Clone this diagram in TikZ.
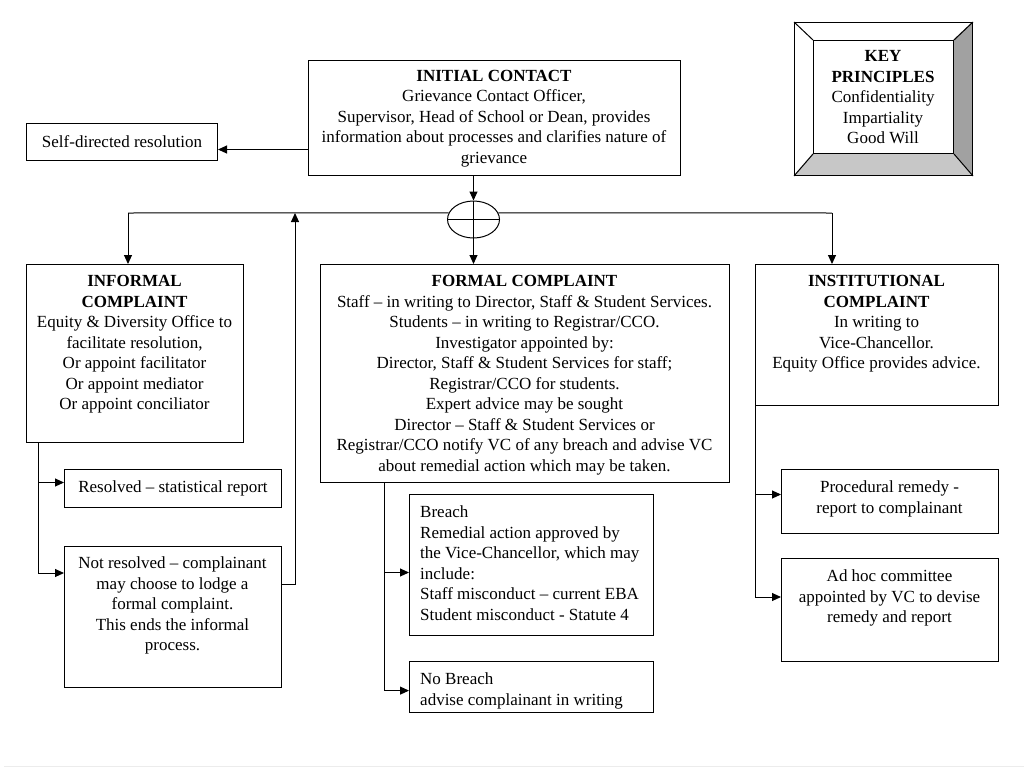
\documentclass[tikz,border=0pt]{standalone}
\usepackage{fontspec}
\setmainfont{Liberation Serif}
\usetikzlibrary{arrows.meta,shapes.geometric}
\tikzset{
  box/.style={draw=black, line width=1pt, rectangle, inner sep=0pt, anchor=north west},
  txt/.style={inner sep=0pt, align=center, anchor=north, font=\fontsize{17}{20.5}\selectfont},
  ltxt/.style={inner sep=0pt, align=left, anchor=north west, font=\fontsize{17}{20.5}\selectfont},
  ln/.style={draw=black, line width=1pt},
  arr/.style={ln, -{Triangle[length=9pt,width=8pt]}},
}
\begin{document}
\begin{tikzpicture}[x=1pt,y=-1pt]
\useasboundingbox (0,0) rectangle (1024,768);
\draw[gray!15, line width=1pt] (4,766) -- (1024,766);

% boxes
\node[box, minimum width=372, minimum height=115] (ic) at (308,60) {};
\node[box, minimum width=191, minimum height=37, font=\fontsize{17}{20.5}\selectfont] (sd) at (26,123) {Self-directed resolution};
\node[box, minimum width=217, minimum height=178] (inf) at (26,264) {};
\node[box, minimum width=409, minimum height=218] (fc) at (320,264) {};
\node[box, minimum width=243, minimum height=141] (inst) at (755,264) {};
\node[box, minimum width=217, minimum height=38, font=\fontsize{17}{20.5}\selectfont] (res) at (64,469) {Resolved -- statistical report};
\node[box, minimum width=217, minimum height=141] (nr) at (64,546) {};
\node[box, minimum width=244, minimum height=141] (br) at (409,494) {};
\node[box, minimum width=244, minimum height=51] (nb) at (409,661) {};
\node[box, minimum width=217, minimum height=64] (pr) at (781,469) {};
\node[box, minimum width=217, minimum height=103] (ah) at (781,558) {};

% key principles bevel box
\fill[white] (794,22) -- (972,22) -- (953,40) -- (813,40) -- cycle;
\fill[white] (794,22) -- (813,40) -- (813,153) -- (794,175) -- cycle;
\fill[black!37] (972,22) -- (972,175) -- (953,153) -- (953,40) -- cycle;
\fill[black!22] (794,175) -- (972,175) -- (953,153) -- (813,153) -- cycle;
\node[box, minimum width=178, minimum height=153] (key) at (794,22) {};
\node[box, minimum width=140, minimum height=113] (keyin) at (813,40) {};
\draw[ln] (key.north west) -- (keyin.north west);
\draw[ln] (key.north east) -- (keyin.north east);
\draw[ln] (key.south west) -- (keyin.south west);
\draw[ln] (key.south east) -- (keyin.south east);

% texts
\node[txt] (tic) at (494,70) {\textbf{INITIAL CONTACT}\\Grievance Contact Officer,\\Supervisor, Head of School or Dean, provides\\information about processes and clarifies nature of\\grievance};
\node[txt] (tkey) at (883,50.5) {\textbf{KEY}\\\textbf{PRINCIPLES}\\Confidentiality\\Impartiality\\Good Will};
\node[txt] (tinf) at (134.5,275.5) {\textbf{INFORMAL}\\\textbf{COMPLAINT}\\Equity \& Diversity Office to\\facilitate resolution,\\Or appoint facilitator\\Or appoint mediator\\Or appoint conciliator};
\node[txt] (tfc) at (524.5,275.5) {\textbf{FORMAL COMPLAINT}\\Staff -- in writing to Director, Staff \& Student Services.\\Students -- in writing to Registrar/CCO.\\Investigator appointed by:\\Director, Staff \& Student Services for staff;\\Registrar/CCO for students.\\Expert advice may be sought\\Director -- Staff \& Student Services or\\Registrar/CCO notify VC of any breach and advise VC\\about remedial action which may be taken.};
\node[txt] (tinst) at (876.5,275.5) {\textbf{INSTITUTIONAL}\\\textbf{COMPLAINT}\\In writing to\\Vice-Chancellor.\\Equity Office provides advice.};
\node[txt] (tnr) at (172.5,556.5) {Not resolved -- complainant\\may choose to lodge a\\formal complaint.\\This ends the informal\\process.};
\node[ltxt] (tbr) at (420,505.5) {Breach\\Remedial action approved by\\the Vice-Chancellor, which may\\include:\\Staff misconduct -- current EBA\\Student misconduct - Statute 4};
\node[ltxt] (tnb) at (420,672.5) {No Breach\\advise complainant in writing};
\node[txt] (tpr) at (889.5,480.5) {Procedural remedy -\\report to complainant};
\node[txt] (tah) at (889.5,569.5) {Ad hoc committee\\appointed by VC to devise\\remedy and report};

% junction
\node[draw=black, line width=1pt, ellipse, minimum width=52, minimum height=37, inner sep=0pt] (el) at (473.5,219.5) {};
\draw[ln] (el.west) -- (el.east);
\draw[ln] (el.north) -- (el.south);
\coordinate (jl) at (128,213);
\coordinate (jr) at (832,213);
\coordinate (up) at (295,213);

% connectors
\draw[arr] ([yshift=-7.5]sd.east -| ic.west) -- ([yshift=-7.5]sd.east);
\draw[arr] (ic.south -| el.north) -- (el.north);
\draw[ln] (el.165) -- (jl);
\draw[ln] (el.15) -- (jr);
\draw[arr] (jl) -- (jl |- inf.north);
\draw[arr] (jr) -- (jr |- inst.north);
\draw[arr] (el.south) -- (el.south |- fc.north);
\draw[arr] ([xshift=12]inf.south west) |- ([yshift=6]res.west);
\draw[arr] ([xshift=12]inf.south west) |- ([yshift=44]nr.west);
\draw[arr] ([yshift=33]nr.east) -| (up);
\draw[arr] ([xshift=64]fc.south west) |- ([yshift=-7.5]br.west);
\draw[arr] ([xshift=64]fc.south west) |- ([yshift=-3.6]nb.west);
\draw[arr] (inst.south west) |- ([yshift=7]pr.west);
\draw[arr] (inst.south west) |- ([yshift=13]ah.west);
\end{tikzpicture}
\end{document}
